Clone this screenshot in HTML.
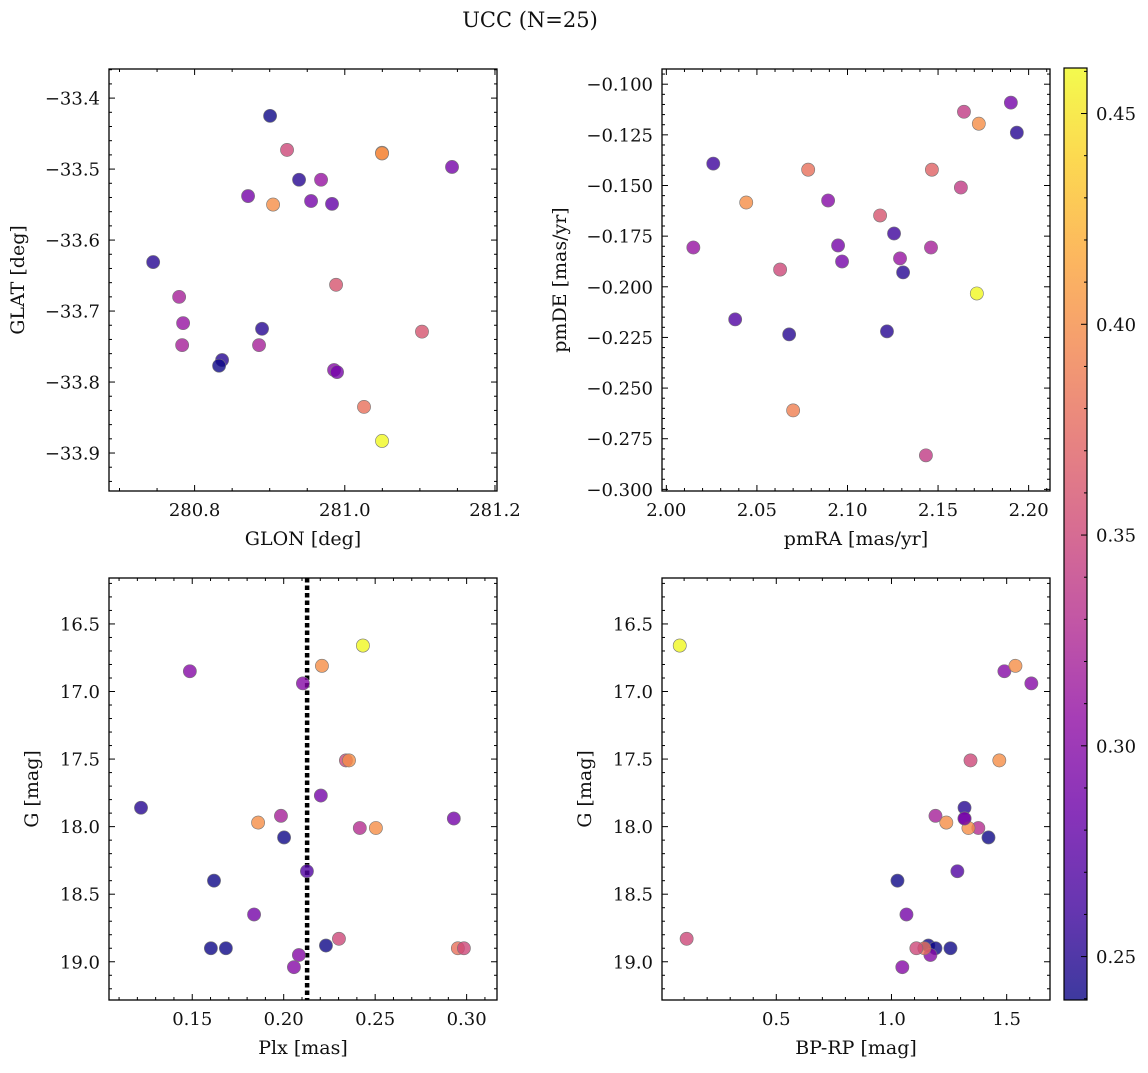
<!DOCTYPE html>
<html><head><meta charset="utf-8"><style>
html,body{margin:0;padding:0;background:#fff;}
svg text{font-family:"DejaVu Serif","Liberation Serif",serif;fill:#111;}
</style></head><body>
<svg id="fig" width="1148" height="1068" viewBox="0 0 1148 1068" xmlns="http://www.w3.org/2000/svg">
<text x="530" y="27" font-size="21" text-anchor="middle">UCC (N=25)</text>
</svg>
<script>
// ---- data: panel 1 (GLON, GLAT) ----
const glon = [280.9005,280.9231,281.0496,281.0496,280.9391,280.9684,281.1428,280.8712,280.9551,280.9830,280.9045,280.7448,280.9884,280.7794,280.7847,280.8898,281.1028,280.7834,280.8858,280.8366,280.8326,280.9857,280.9897,281.0256,281.0496];
const glat = [-33.425,-33.473,-33.477,-33.478,-33.515,-33.515,-33.497,-33.538,-33.545,-33.549,-33.550,-33.631,-33.663,-33.680,-33.717,-33.725,-33.729,-33.748,-33.748,-33.769,-33.777,-33.783,-33.786,-33.835,-33.883];
const col1 = [0.24,0.35,0.40,0.40,0.25,0.31,0.29,0.29,0.29,0.28,0.40,0.25,0.36,0.32,0.31,0.25,0.36,0.32,0.32,0.25,0.24,0.30,0.29,0.38,0.46];
// ---- data: panel 2 (pmRA, pmDE) ----
const pmra = [2.1902,2.1643,2.1725,2.1935,2.0259,2.0783,2.1466,2.1626,2.0893,2.0441,2.1180,2.1257,2.0948,2.0149,2.1461,2.1290,2.0970,2.0628,2.1307,2.1714,2.0380,2.0678,2.1218,2.0700,2.1433];
const pmde = [-0.1091,-0.1136,-0.1195,-0.1239,-0.1392,-0.1422,-0.1422,-0.1510,-0.1574,-0.1584,-0.1648,-0.1737,-0.1796,-0.1806,-0.1806,-0.1860,-0.1875,-0.1915,-0.1929,-0.2033,-0.2161,-0.2235,-0.2220,-0.2610,-0.2832];
const col2 = [0.29,0.34,0.40,0.25,0.26,0.38,0.37,0.34,0.30,0.40,0.36,0.26,0.29,0.31,0.32,0.31,0.29,0.35,0.25,0.46,0.27,0.25,0.25,0.39,0.34];
// ---- data: panels 3 & 4 (Plx, BP-RP, G) ----
const plx  = [0.2433,0.1487,0.2209,0.2105,0.2340,0.2357,0.1220,0.2203,0.1985,0.1860,0.2416,0.2504,0.2930,0.2002,0.1619,0.2127,0.1838,0.1602,0.1684,0.2083,0.2231,0.2302,0.2056,0.2952,0.2985];
const gmag = [16.66,16.85,16.81,16.94,17.51,17.51,17.86,17.77,17.92,17.97,18.01,18.01,17.94,18.08,18.40,18.33,18.65,18.90,18.90,18.95,18.88,18.83,19.04,18.90,18.90];
const col34= [0.46,0.30,0.40,0.30,0.35,0.40,0.25,0.29,0.32,0.40,0.33,0.40,0.29,0.24,0.24,0.27,0.29,0.24,0.24,0.30,0.24,0.35,0.30,0.38,0.35];
const bp4  = [0.081,1.490,1.538,1.607,1.343,1.468,1.317,1.191,1.317,1.238,1.377,1.334,1.317,1.421,1.026,1.286,1.065,1.160,1.191,1.169,1.256,0.111,1.047,1.143,1.108];
const g4   = [16.66,16.85,16.81,16.94,17.51,17.51,17.86,17.92,17.94,17.97,18.01,18.01,17.94,18.08,18.40,18.33,18.65,18.88,18.90,18.95,18.90,18.83,19.04,18.90,18.90];
const col4 = [0.46,0.30,0.40,0.30,0.35,0.40,0.25,0.32,0.29,0.40,0.33,0.40,0.29,0.24,0.24,0.27,0.29,0.24,0.24,0.30,0.24,0.35,0.30,0.38,0.35];
const plxMedian = 0.2128;
const cbTicks = [0.25,0.30,0.35,0.40,0.45];

const NS = 'http://www.w3.org/2000/svg';
const svg = document.getElementById('fig');
const plasma = ['#0d0887','#41049d','#6a00a8','#8f0da4','#b12a90','#cc4778','#e16462','#f2844b','#fca636','#fcce25','#f0f921'];
const CMIN = 0.2397, CMAX = 0.4608;
const TF = 18, LF = 19;
function hex(h){return [1,3,5].map(i=>parseInt(h.substr(i,2),16));}
function cmap(v){
  let t=(v-CMIN)/(CMAX-CMIN); t=Math.max(0,Math.min(1,t));
  const f=t*10, i=Math.min(9,Math.floor(f)), r=f-i;
  const a=hex(plasma[i]), b=hex(plasma[i+1]);
  return 'rgb('+a.map((c,k)=>Math.round(c+(b[k]-c)*r)).join(',')+')';
}
function el(tag, attrs, parent){
  const e=document.createElementNS(NS,tag);
  for(const k in attrs) e.setAttribute(k,attrs[k]);
  (parent||svg).appendChild(e); return e;
}
function fmtMinus(s){return s.replace('-','\u2212');}

function panel(cfg){
  const {L,R,T,B,xmin,xmax,ymin,ymax,name}=cfg;
  const g=el('g',{});
  
  
  const sx=v=>L+(v-xmin)/(xmax-xmin)*(R-L);
  const sy=v=>cfg.invert ? T+(v-ymin)/(ymax-ymin)*(B-T) : B-(v-ymin)/(ymax-ymin)*(B-T);
  const cid='clip-'+name;
  const cp=el('clipPath',{id:cid},g); el('rect',{x:L,y:T,width:R-L,height:B-T},cp);
  const marks=el('g',{'clip-path':'url(#'+cid+')'},g);
  if(cfg.vline!==undefined){
    const ln=el('line',{x1:sx(cfg.vline),x2:sx(cfg.vline),y1:T,y2:B,stroke:'#000','stroke-width':4.5,'stroke-dasharray':'4.5 3'},marks);
    
    
  }
  cfg.xs.forEach((xv,i)=>{
    const c=el('circle',{cx:sx(xv),cy:sy(cfg.ys[i]),r:6.6,fill:cmap(cfg.cs[i]),'fill-opacity':0.8,stroke:'#777','stroke-width':0.6},marks);
    
    
  });
  el('rect',{x:L,y:T,width:R-L,height:B-T,fill:'none',stroke:'#000','stroke-width':1.3},g);
  const tk=(x1,y1,x2,y2)=>el('line',{x1,y1,x2,y2,stroke:'#000','stroke-width':1},g);
  const eps=1e-9;
  for(let v=Math.ceil(xmin/cfg.xminor-eps)*cfg.xminor; v<=xmax+eps; v+=cfg.xminor){
    const major=Math.abs(v/cfg.xmajor-Math.round(v/cfg.xmajor))<1e-6;
    const len=major?6:3, x=sx(v);
    tk(x,B,x,B-len); tk(x,T,x,T+len);
    if(major){
      const t=el('text',{x:x,y:B+25,'font-size':TF,'text-anchor':'middle'},g);
      t.textContent=fmtMinus(v.toFixed(cfg.xdec));
      
      
    }
  }
  for(let v=Math.ceil(Math.min(ymin,ymax)/cfg.yminor-eps)*cfg.yminor; v<=Math.max(ymin,ymax)+eps; v+=cfg.yminor){
    const major=Math.abs(v/cfg.ymajor-Math.round(v/cfg.ymajor))<1e-6;
    const len=major?6:3, y=sy(v);
    tk(L,y,L+len,y); tk(R,y,R-len,y);
    if(major){
      const t=el('text',{x:L-9,y:y+6.5,'font-size':TF,'text-anchor':'end'},g);
      t.textContent=fmtMinus((Math.abs(v)<1e-9?0:v).toFixed(cfg.ydec));
      
      
    }
  }
  const xl=el('text',{x:(L+R)/2,y:B+54,'font-size':LF,'text-anchor':'middle'},g);
  xl.textContent=cfg.xlabel;
  
  
  const yl=el('text',{x:0,y:0,'font-size':LF,'text-anchor':'middle',transform:'translate('+cfg.ylx+','+(T+B)/2+') rotate(-90)'},g);
  yl.textContent=cfg.ylabel;
  
  
}

panel({name:'glon-glat-panel',L:109,R:497,T:69,B:491,xmin:280.686,xmax:281.2027,ymin:-33.9535,ymax:-33.359,
  xs:glon,ys:glat,cs:col1,xmajor:0.2,xminor:0.05,ymajor:0.1,yminor:0.02,xdec:1,ydec:1,xlabel:'GLON [deg]',ylabel:'GLAT [deg]',ylx:24});
panel({name:'pm-panel',L:662,R:1050,T:69,B:491,xmin:1.9976,xmax:2.2118,ymin:-0.3008,ymax:-0.0925,
  xs:pmra,ys:pmde,cs:col2,xmajor:0.05,xminor:0.01,ymajor:0.025,yminor:0.005,xdec:2,ydec:3,xlabel:'pmRA [mas/yr]',ylabel:'pmDE [mas/yr]',ylx:566});
panel({name:'plx-g-panel',L:109,R:497,T:578,B:1000,xmin:0.1045,xmax:0.3166,ymin:16.160,ymax:19.283,invert:true,vline:plxMedian,
  xs:plx,ys:gmag,cs:col34,xmajor:0.05,xminor:0.01,ymajor:0.5,yminor:0.1,xdec:2,ydec:1,xlabel:'Plx [mas]',ylabel:'G [mag]',ylx:38});
panel({name:'cmd-panel',L:662,R:1050,T:578,B:1000,xmin:0.004,xmax:1.688,ymin:16.160,ymax:19.283,invert:true,
  xs:bp4,ys:g4,cs:col4,xmajor:0.5,xminor:0.1,ymajor:0.5,yminor:0.1,xdec:1,ydec:1,xlabel:'BP-RP [mag]',ylabel:'G [mag]',ylx:591});

(function(){
  const L=1064,R=1087,T=68,B=1000;
  const g=el('g',{});
  
  
  const defs=el('defs',{},g);
  const lg=el('linearGradient',{id:'cbg',x1:0,y1:1,x2:0,y2:0},defs);
  plasma.forEach((c,i)=>el('stop',{offset:(i/10),'stop-color':c},lg));
  el('rect',{x:L,y:T,width:R-L,height:B-T,fill:'url(#cbg)','fill-opacity':0.8},g);
  el('rect',{x:L,y:T,width:R-L,height:B-T,fill:'none',stroke:'#000','stroke-width':1.2},g);
  const sy=v=>B-(v-CMIN)/(CMAX-CMIN)*(B-T);
  for(let v=0.24; v<=CMAX+1e-9; v+=0.01){
    const y=sy(v); if(y<T||y>B) continue;
    const major=Math.abs(v*20-Math.round(v*20))<1e-6;
    el('line',{x1:R,x2:R-(major?6:3),y1:y,y2:y,stroke:'#000','stroke-width':1},g);
  }
  cbTicks.forEach(v=>{
    const t=el('text',{x:R+9,y:sy(v)+6.5,'font-size':TF},g);
    t.textContent=v.toFixed(2);
    
    
  });
})();
</script>
</body></html>
